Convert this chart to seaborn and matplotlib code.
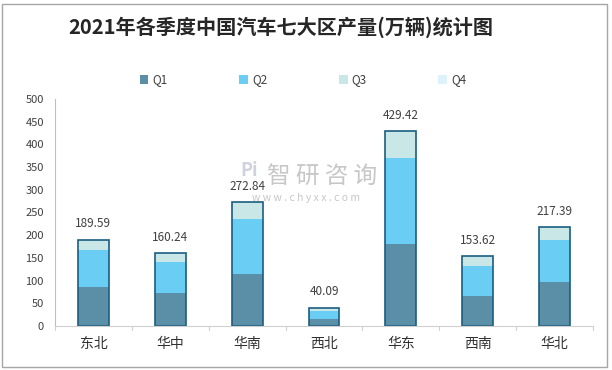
import numpy as np
import pandas as pd
import matplotlib
matplotlib.use("Agg")
import matplotlib.pyplot as plt
import seaborn as sns
from matplotlib.patches import Rectangle, Patch

regions = ["东北", "华中", "华南", "西北", "华东", "西南", "华北"]
q1 = [85.9, 72.7, 115.0, 15.4, 180.6, 66.0, 96.9]
q2 = [81.5, 68.3, 121.4, 18.4, 190.1, 66.8, 93.1]
q3 = [22.19, 19.24, 36.44, 6.29, 58.72, 20.82, 27.39]
q4 = [0, 0, 0, 0, 0, 0, 0]
totals = [189.59, 160.24, 272.84, 40.09, 429.42, 153.62, 217.39]
series = ["Q1", "Q2", "Q3", "Q4"]
colors = ["#5B8FA8", "#6ACDF3", "#C8E7E6", "#DDF2FA"]

sns.set_theme(style="white")
plt.rcParams['font.family'] = ['Noto Sans CJK SC', 'DejaVu Sans']

fig = plt.figure(figsize=(6.12, 3.70), dpi=100)
ax = fig.add_axes([55/612, 1-326/370, (593-55)/612, (326-99)/370])

df = pd.DataFrame({"region": regions, "Q1": q1, "Q2": q2, "Q3": q3, "Q4": q4})
cum = df[series].cumsum(axis=1)
width = 0.40
for s, c in reversed(list(zip(series, colors))):
    sns.barplot(x=df["region"], y=cum[s], color=c, width=width, ax=ax,
                saturation=1, linewidth=0, edgecolor=c)
# outline of total
sns.barplot(x=df["region"], y=cum["Q4"], color="#1B5E80", width=width, ax=ax,
            fill=False, linewidth=1.2)

for i, t in enumerate(totals):
    ax.annotate(f"{t:.2f}", (i, t), xytext=(0, 16), textcoords="offset pixels",
                ha="center", va="center", fontsize=8.5, color="#404040")

ax.set_ylim(0, 500)
ax.set_xlim(-0.5, 6.5)
ax.set_yticks(np.arange(0, 501, 50))
ax.tick_params(axis="y", labelsize=8, colors="#404040", length=0, pad=8)
ax.tick_params(axis="x", labelsize=10, colors="#303030", length=0, pad=8)
ax.set_xlabel("")
ax.set_ylabel("")
for sp in ["top", "right"]:
    ax.spines[sp].set_visible(False)
ax.spines["left"].set_color("#BFBFBF")
ax.spines["left"].set_linewidth(0.8)
ax.spines["bottom"].set_color("#D0D0D0")
ax.spines["bottom"].set_linewidth(0.8)
# boundary tick marks below x axis
for b in np.arange(-0.5, 7.0, 1.0):
    ax.plot([b, b], [0, -0.018], transform=ax.get_xaxis_transform(),
            color="#D0D0D0", lw=0.8, clip_on=False)

fig.text(68/612, 1-27/370, "2021年各季度中国汽车七大区产量(万辆)统计图",
         fontsize=14.5, fontweight="bold", color="#262626", ha="left", va="center")

handles = [Patch(facecolor=c, edgecolor="none") for c in colors]
fig.legend(handles, series, loc="center", bbox_to_anchor=(303/612, 1-80/370),
           ncol=4, frameon=False, fontsize=8.5, handlelength=0.75, handleheight=0.75,
           columnspacing=6.05, handletextpad=0.35, labelcolor="#404040")

# watermark
fig.text(249/612, 1-171/370, "Pi", fontsize=13, fontweight="bold", color="#C8CFDA",
         ha="center", va="center", alpha=0.9)
fig.text(322/612, 1-177/370, "智 研 咨 询", fontsize=17, color="#BDBDBD",
         ha="center", va="center", alpha=0.85)
fig.text(306/612, 1-198/370, "w w w . c h y x x . c o m", fontsize=7.5, color="#BDBDBD",
         ha="center", va="center", alpha=0.85)

fig.patches.append(Rectangle((2/612, 3/370), 605/612, 363/370, transform=fig.transFigure,
                             fill=False, edgecolor="#A6A6A6", linewidth=1.0))

fig.savefig("out.png", dpi=100)
